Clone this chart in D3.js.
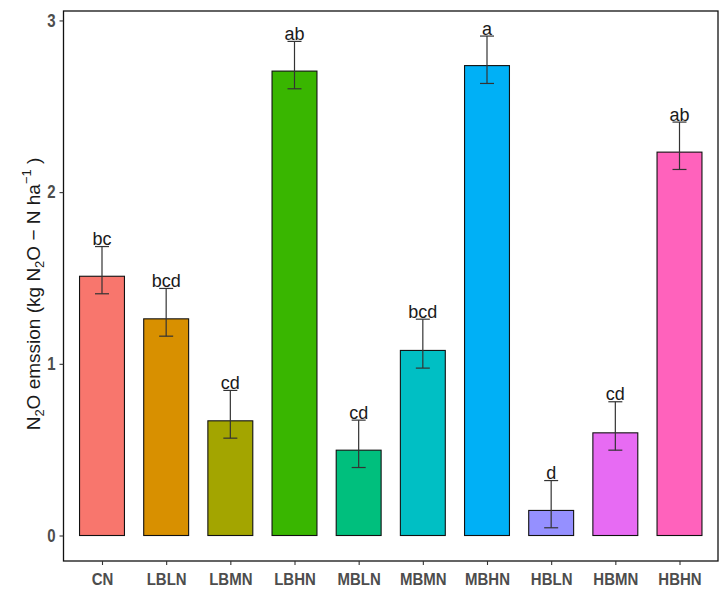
<!DOCTYPE html>
<html><head><meta charset="utf-8">
<script src="https://cdn.jsdelivr.net/npm/d3@7/dist/d3.min.js"></script>
<style>body{margin:0;background:#fff;} svg{display:block;}</style>
</head><body>
<script>
const categories = ["CN","LBLN","LBMN","LBHN","MBLN","MBMN","MBHN","HBLN","HBMN","HBHN"];
const means  = [1.51, 1.262, 0.668, 2.705, 0.497, 1.078, 2.737, 0.146, 0.598, 2.233];
const upper  = [1.683, 1.439, 0.845, 2.878, 0.672, 1.260, 2.909, 0.320, 0.779, 2.408];
const lower  = [1.408, 1.161, 0.567, 2.602, 0.396, 0.975, 2.633, 0.045, 0.497, 2.132];
const letters = ["bc","bcd","cd","ab","cd","bcd","a","d","cd","ab"];
const colors = ["#F8766D","#D89000","#A3A500","#39B600","#00BF7D","#00BFC4","#00B0F6","#9590FF","#E76BF3","#FF62BC"];
const yTicks = [0,1,2,3];

const W=724,H=597;
const L=63.5,R=718,T=11,B=561;
const svg=d3.select("body").append("svg").attr("width",W).attr("height",H)
  .style("font-family","'Liberation Sans', Arial, sans-serif");

// ggplot-like discrete scale: 0.6 units of expansion each side
const step=(R-L)/(categories.length-1+1.2);
const x=d3.scalePoint().domain(categories).range([L+0.6*step, R-0.6*step]);
const bw=step*0.7;
const y=d3.scaleLinear().domain([-0.1485,3.055]).range([B,T]);

const data=categories.map((c,i)=>({c,m:means[i],u:upper[i],l:lower[i],t:letters[i],col:colors[i]}));

// bars
svg.append("g").selectAll("rect").data(data).join("rect")
  .attr("x",d=>x(d.c)-bw/2).attr("width",bw)
  .attr("y",d=>y(d.m)).attr("height",d=>y(0)-y(d.m))
  .attr("fill",d=>d.col).attr("stroke","#111").attr("stroke-width",1.1);

// error bars
const eb=svg.append("g").attr("stroke","#333").attr("stroke-width",1.2);
data.forEach(d=>{
  const cx=x(d.c);
  eb.append("line").attr("x1",cx).attr("x2",cx).attr("y1",y(d.u)).attr("y2",y(d.l));
  eb.append("line").attr("x1",cx-7).attr("x2",cx+7).attr("y1",y(d.u)).attr("y2",y(d.u));
  eb.append("line").attr("x1",cx-7).attr("x2",cx+7).attr("y1",y(d.l)).attr("y2",y(d.l));
});

// letters
svg.append("g").selectAll("text").data(data).join("text")
  .attr("x",d=>x(d.c)).attr("y",d=>y(d.u)-1.5)
  .attr("text-anchor","middle").attr("font-size",18).attr("fill","#1a1a1a")
  .text(d=>d.t);

// panel border
svg.append("rect").attr("x",L).attr("y",T).attr("width",R-L).attr("height",B-T)
  .attr("fill","none").attr("stroke","#111").attr("stroke-width",1.3);

// y axis
const ya=svg.append("g").attr("transform",`translate(${L},0)`)
  .call(d3.axisLeft(y).tickValues(yTicks).tickSize(4).tickPadding(4).tickFormat(d3.format("d")));
ya.select(".domain").remove();
ya.selectAll("line").attr("stroke","#333").attr("stroke-width",1.1);
ya.selectAll("text").attr("font-size",15).attr("font-weight","bold").attr("fill","#4D4D4D")
  .attr("font-family","'Liberation Sans', Arial, sans-serif")
  .attr("transform","scale(1,1.2)");

// x axis
const xa=svg.append("g").attr("transform",`translate(0,${B})`)
  .call(d3.axisBottom(x).tickSize(4).tickPadding(6));
xa.select(".domain").remove();
xa.selectAll("line").attr("stroke","#333").attr("stroke-width",1.1);
xa.selectAll("text").attr("font-size",15).attr("font-weight","bold").attr("fill","#4D4D4D")
  .attr("font-family","'Liberation Sans', Arial, sans-serif")
  .attr("transform","scale(1,1.15)");

// y title
const yt=svg.append("text").attr("transform","translate(40,294) rotate(-90)")
  .attr("text-anchor","middle").attr("font-size",19).attr("fill","#1a1a1a");
yt.append("tspan").text("N");
yt.append("tspan").attr("font-size",13).attr("baseline-shift","-30%").text("2");
yt.append("tspan").text("O emssion (kg N");
yt.append("tspan").attr("font-size",13).attr("baseline-shift","-30%").text("2");
yt.append("tspan").text("O \u2212 N ha");
yt.append("tspan").attr("font-size",13).attr("baseline-shift","70%").text("\u22121");
yt.append("tspan").text(" )");
</script>
</body></html>
